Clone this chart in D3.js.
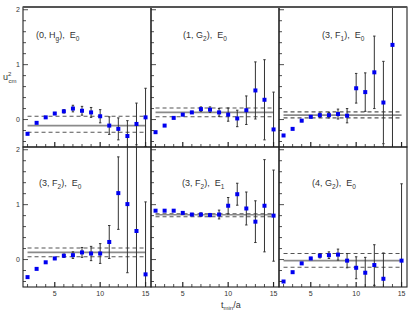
<!DOCTYPE html>
<html>
<head>
<meta charset="utf-8">
<script src="https://cdn.jsdelivr.net/npm/d3@7"></script>
<style>
body { margin: 0; background: #fff; }
text { font-family: "Liberation Sans", Arial, sans-serif; fill: #333; }
</style>
</head>
<body>
<div id="vis"></div>
<script>
const width = 415;
const height = 317;

// time slices
const tmin = [2, 3, 4, 5, 6, 7, 8, 9, 10, 11, 12, 13, 14, 15];

// u^2_cm per channel
const hgE0 = [-0.26, -0.06, 0.04, 0.11, 0.15, 0.20, 0.16, 0.13, 0.06, -0.11, -0.17, -0.30, -0.08, 0.04];
const hgE0Err = [0.01, 0.01, 0.01, 0.02, 0.03, 0.06, 0.08, 0.09, 0.12, 0.16, 0.20, 0.28, 0.38, 0.53];

const g2E0 = [-0.23, -0.11, 0.03, 0.09, 0.13, 0.19, 0.18, 0.13, 0.09, 0.02, 0.17, 0.53, 0.36, -0.18];
const g2E0Err = [0.01, 0.01, 0.01, 0.02, 0.02, 0.04, 0.05, 0.07, 0.12, 0.15, 0.26, 0.52, 0.73, 0.68];

const f1E0 = [-0.29, -0.17, -0.02, 0.05, 0.08, 0.08, 0.10, 0.07, 0.57, 0.50, 0.86, 0.31, 1.36, null];
const f1E0Err = [0.01, 0.01, 0.02, 0.02, 0.04, 0.05, 0.09, 0.13, 0.27, 0.35, 0.66, 0.75, 1.9, null];

const f2E0 = [-0.32, -0.17, -0.05, 0.02, 0.07, 0.08, 0.13, 0.11, 0.11, 0.32, 1.21, 1.01, 0.52, -0.27];
const f2E0Err = [0.01, 0.01, 0.01, 0.02, 0.03, 0.06, 0.09, 0.13, 0.18, 0.30, 0.66, 1.25, 1.6, 1.32];

const f2E1 = [0.89, 0.89, 0.89, 0.85, 0.82, 0.82, 0.81, 0.82, 0.98, 1.19, 0.93, 0.69, 0.98, 0.80];
const f2E1Err = [0.01, 0.01, 0.01, 0.02, 0.02, 0.03, 0.03, 0.08, 0.15, 0.20, 0.30, 0.38, 0.84, 0.83];

const g2E0n4 = [-0.40, -0.23, -0.07, 0.02, 0.07, 0.08, 0.09, -0.02, -0.15, -0.24, -0.10, -0.35, null, -0.02];
const g2E0n4Err = [0.01, 0.01, 0.02, 0.02, 0.04, 0.06, 0.10, 0.13, 0.20, 0.28, 0.37, 0.47, null, 1.40];

// fit results (central value and error band), same order as panels
const fitCentre = [-0.11, 0.13, 0.08, 0.13, 0.815, -0.02];
const fitHigh = [0.06, 0.21, 0.14, 0.21, 0.835, 0.11];
const fitLow = [-0.23, 0.05, 0.03, 0.05, 0.78, -0.14];
const fitFrom = 2;
const fitTo = 15;

// panel labels: [text, isSubscript]
const labels = [
	[["(0, H", 0], ["g", 1], ["),\u00a0\u00a0E", 0], ["0", 1]],
	[["(1, G", 0], ["2", 1], ["),\u00a0\u00a0E", 0], ["0", 1]],
	[["(3, F", 0], ["1", 1], ["),\u00a0\u00a0E", 0], ["0", 1]],
	[["(3, F", 0], ["2", 1], ["),\u00a0\u00a0E", 0], ["0", 1]],
	[["(3, F", 0], ["2", 1], ["),\u00a0\u00a0E", 0], ["1", 1]],
	[["(4, G", 0], ["2", 1], ["),\u00a0\u00a0E", 0], ["0", 1]]
];

const series = [hgE0, g2E0, f1E0, f2E0, f2E1, g2E0n4];
const errors = [hgE0Err, g2E0Err, f1E0Err, f2E0Err, f2E1Err, g2E0n4Err];

const xTicks = [5, 10, 15];
const yTickLabels = [0, 1, 2];

// layout
const padLeft = 23, padTop = 7, colW = 128, rowH = 140;
const labelDx = [13, 32, 43, 16, 31, 33];
const labelDy = [31, 31, 31, 39, 39, 39];

const x = d3.scaleLinear().domain([1.5, 15.6]).range([0, colW]);
const y = d3.scaleLinear().domain([-0.5, 2.05]).range([rowH, 0]);

const svg = d3.select("div#vis")
	.append("svg")
		.attr("width", width)
		.attr("height", height);

svg.append("defs")
	.append("clipPath")
		.attr("id", "clip")
		.append("rect")
			.attr("width", colW)
			.attr("height", rowH);

series.forEach((vals, i) => {
	const col = i % 3, row = Math.floor(i / 3);
	const g = svg.append("g")
		.attr("transform", `translate(${padLeft + col * colW},${padTop + row * rowH})`);

	const data = tmin.map((t, k) => ({t: t, v: vals[k], e: errors[i][k]}))
		.filter(d => d.v !== null);

	const inner = g.append("g").attr("clip-path", "url(#clip)");

	// fit band
	inner.selectAll("line.band")
		.data([fitHigh[i], fitLow[i]])
		.enter()
		.append("line")
			.attr("x1", x(fitFrom))
			.attr("x2", x(fitTo))
			.attr("y1", d => y(d))
			.attr("y2", d => y(d))
			.attr("stroke", "#555")
			.attr("stroke-width", 1.1)
			.attr("stroke-dasharray", "4,3");
	inner.append("line")
		.attr("x1", x(fitFrom))
		.attr("x2", x(fitTo))
		.attr("y1", y(fitCentre[i]))
		.attr("y2", y(fitCentre[i]))
		.attr("stroke", "#8a8a8a")
		.attr("stroke-width", 1.6);

	// error bars
	inner.selectAll("line.err")
		.data(data)
		.enter()
		.append("line")
			.attr("x1", d => x(d.t))
			.attr("x2", d => x(d.t))
			.attr("y1", d => y(d.v - d.e))
			.attr("y2", d => y(d.v + d.e))
			.attr("stroke", "#333")
			.attr("stroke-width", 1);
	inner.selectAll("path.cap")
		.data(data)
		.enter()
		.append("path")
			.attr("d", d => `M${x(d.t) - 1.2},${y(d.v - d.e)}h2.4M${x(d.t) - 1.2},${y(d.v + d.e)}h2.4`)
			.attr("stroke", "#333")
			.attr("stroke-width", 1);

	// points
	inner.selectAll("rect.pt")
		.data(data)
		.enter()
		.append("rect")
			.attr("x", d => x(d.t) - 2)
			.attr("y", d => y(d.v) - 2)
			.attr("width", 4)
			.attr("height", 4)
			.attr("fill", "#0000f0");

	// ticks
	g.selectAll("line.xt")
		.data(d3.range(2, 16))
		.enter()
		.append("line")
			.attr("x1", d => x(d))
			.attr("x2", d => x(d))
			.attr("y1", rowH)
			.attr("y2", d => rowH - (d % 5 === 0 ? 5 : 3))
			.attr("stroke", "#222")
			.attr("stroke-width", d => d % 5 === 0 ? 1.2 : 0.8);
	const yt = d3.range(-4, 21, 2).map(d => d / 10);
	g.selectAll("line.yt")
		.data(yt)
		.enter()
		.append("line")
			.attr("x1", 0)
			.attr("x2", d => Number.isInteger(d) ? 5 : 3)
			.attr("y1", d => y(d))
			.attr("y2", d => y(d))
			.attr("stroke", "#222")
			.attr("stroke-width", 0.8);

	// frame
	g.append("rect")
		.attr("width", colW)
		.attr("height", rowH)
		.attr("fill", "none")
		.attr("stroke", "#222")
		.attr("stroke-width", 1.1);

	// label
	const lab = g.append("text")
		.attr("x", labelDx[i])
		.attr("y", labelDy[i])
		.attr("font-size", 9);
	labels[i].forEach(([s, sub], k) => {
		lab.append("tspan")
			.attr("font-size", sub ? 6.5 : 9)
			.attr("dy", sub ? 2.5 : (k > 0 ? -2.5 : 0))
			.text(s);
	});

	if (col === 0) {
		g.selectAll("text.yl")
			.data(yTickLabels)
			.enter()
			.append("text")
				.attr("x", -3)
				.attr("y", d => y(d) + 2.5)
				.attr("text-anchor", "end")
				.attr("font-size", 7)
				.text(d => d);
	}
	if (row === 1) {
		g.selectAll("text.xl")
			.data(xTicks)
			.enter()
			.append("text")
				.attr("x", d => x(d))
				.attr("y", rowH + 9)
				.attr("text-anchor", "middle")
				.attr("font-size", 7)
				.text(d => d);
	}
});

// top edge drawn heavier, as in the original
svg.append("line")
	.attr("x1", padLeft).attr("x2", padLeft + 3 * colW)
	.attr("y1", padTop).attr("y2", padTop)
	.attr("stroke", "#555").attr("stroke-width", 2);

// axis titles
const xt = svg.append("text")
	.attr("x", 221)
	.attr("y", 308)
	.attr("font-size", 9);
xt.append("tspan").text("t");
xt.append("tspan").attr("font-size", 6).attr("dy", 2).text("min");
xt.append("tspan").attr("dy", -2).text("/a");

const yl = svg.append("text")
	.attr("x", 3)
	.attr("y", 80)
	.attr("font-size", 9);
yl.append("tspan").text("u");
yl.append("tspan").attr("font-size", 6).attr("dy", -4).text("2");
yl.append("tspan").attr("font-size", 6).attr("x", 8.5).attr("dy", 6.5).text("cm");
</script>
</body>
</html>
